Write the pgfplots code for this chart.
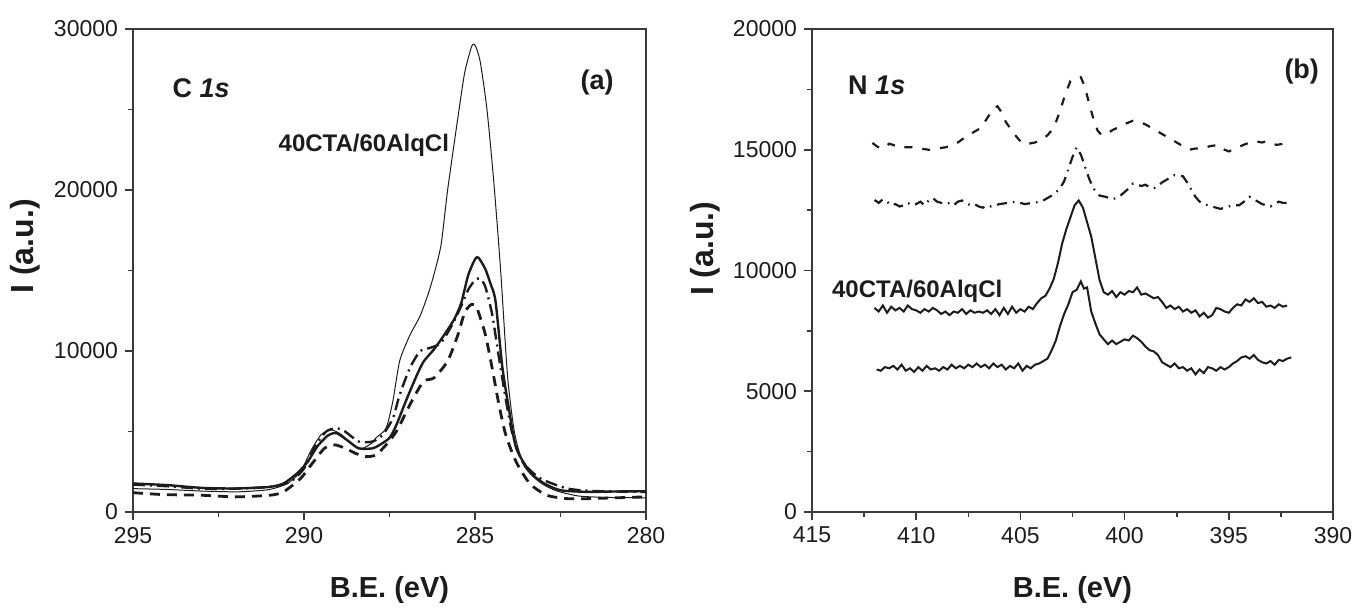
\documentclass[border=0pt]{standalone}
\usepackage{pgfplots}
\pgfplotsset{compat=1.18}
\usepackage{fontspec}
\setmainfont{Liberation Sans}
\definecolor{ink}{HTML}{1C1C1C}
\definecolor{axc}{HTML}{3A3A3A}
\pgfplotsset{
  xpsaxis/.style={
    scale only axis,
    height=241.5pt,
    x dir=reverse,
    axis line style={axc, line width=0.8pt},
    tick style={axc, line width=0.8pt},
    tick align=outside,
    major tick length=4pt,
    minor tick length=2.5pt,
    xtick pos=bottom, ytick pos=left,
    minor x tick num=1, minor y tick num=1,
    tick label style={font=\fontsize{11.5}{13}\selectfont, text=ink},
    /pgf/number format/assume math mode=true,
    /pgf/number format/1000 sep={},
    scaled y ticks=false,
    xlabel={B.E. (eV)}, ylabel={I (a.u.)},
    xlabel style={font=\fontsize{14.5}{16}\selectfont\bfseries, text=ink,
      at={(axis description cs:0.5,-0.161)}, anchor=center},
    ylabel style={font=\fontsize{16}{18}\selectfont\bfseries, text=ink, anchor=center},
    clip=false,
  }
}
\begin{document}
\begin{tikzpicture}
\useasboundingbox (-66.5pt,-48pt) rectangle (610.5pt,256pt);
% ---------------- (a) C 1s ----------------
\begin{axis}[xpsaxis, width=256.5pt, at={(0pt,0pt)}, anchor=south west,
  xmin=280, xmax=295, ymin=0, ymax=30000,
  xtick={280,285,290,295}, ytick={0,10000,20000,30000},
  ylabel style={at={(axis description cs:-0.21,0.55)}}]
% thin solid: 40CTA/60AlqCl
\addplot[ink, line width=0.5pt, smooth, tension=0.4] coordinates {
(295,1450)(294,1400)(293,1300)(292,1250)(291.5,1300)(291,1400)(290.5,1750)
(290.1,2500)(289.8,3800)(289.5,4800)(289.2,5100)(288.9,4800)(288.6,4200)
(288.3,3950)(288.0,4300)(287.9,4600)(287.6,5200)(287.4,6900)(287.2,9400)
(286.9,11000)(286.6,12200)(286.3,14000)(286.0,16500)(285.8,20000)(285.5,24500)
(285.3,27300)(285.1,28900)(285.0,29000)(284.85,28000)(284.65,25000)(284.45,20500)
(284.25,15000)(284.05,8500)(283.85,5000)(283.6,3000)(283.3,2200)(283.0,1700)
(282.6,1300)(282.0,1000)(281.5,930)(281,900)(280,880)};
% thick solid
\addplot[ink, line width=1.2pt, smooth, tension=0.4] coordinates {
(295,1770)(294,1670)(293,1500)(292,1460)(291,1560)(290.6,1770)(290.2,2400)
(289.9,3100)(289.6,4100)(289.3,4750)(289.05,4900)(288.7,4400)(288.4,3950)
(288.0,3950)(287.8,4150)(287.5,4600)(287.3,5400)(287.0,7000)(286.7,8500)
(286.5,9350)(286.2,10100)(285.9,11000)(285.6,12000)(285.4,13000)(285.2,14700)
(285.0,15700)(284.9,15800)(284.7,15100)(284.55,14200)(284.4,13100)(284.2,9000)
(284.0,6300)(283.8,4000)(283.4,2500)(283.0,1800)(282.5,1350)(281.7,1250)
(281,1270)(280,1290)};
% dash-dot
\addplot[ink, line width=1.2pt, smooth, tension=0.4,
  dash pattern=on 6pt off 2.5pt on 1pt off 2.5pt] coordinates {
(295,1700)(294,1600)(293,1450)(292,1450)(291,1560)(290.4,1875)(290.0,2700)
(289.7,4000)(289.35,5000)(289.05,5200)(288.8,5000)(288.4,4375)(288.0,4375)
(287.7,4790)(287.4,5830)(287.2,7290)(286.9,8960)(286.6,10000)(286.3,10200)
(286.0,10500)(285.7,11500)(285.4,12800)(285.2,13800)(285.0,14400)(284.85,14500)
(284.7,14000)(284.5,12300)(284.3,9600)(284.1,7000)(283.9,4800)(283.6,3100)
(283.1,2100)(282.3,1460)(281.5,1300)(280,1250)};
% dashed
\addplot[ink, line width=1.4pt, smooth, tension=0.4,
  dash pattern=on 5pt off 3.5pt] coordinates {
(295,1200)(294.1,1080)(293,1040)(292,940)(291,1040)(290.6,1250)(290.1,2080)
(289.8,2900)(289.4,3960)(289.1,4170)(288.8,3960)(288.5,3650)(288.2,3440)
(287.9,3540)(287.6,4170)(287.3,5000)(287.0,6250)(286.8,7080)(286.5,8125)
(286.2,8330)(285.8,9375)(285.5,11000)(285.3,12400)(285.1,12900)(284.95,12700)
(284.7,11040)(284.5,8960)(284.3,6670)(284.1,4790)(283.8,3125)(283.4,1770)
(282.9,1040)(282.3,830)(281.7,830)(280,940)};
\node[anchor=west, font=\fontsize{13.5}{15}\selectfont\bfseries, text=ink]
  at (axis cs:294.05,26300) {C \textit{1s}};
\node[font=\fontsize{13.5}{15}\selectfont\bfseries, text=ink]
  at (axis cs:281.43,26700) {(a)};
\node[font=\fontsize{12}{14}\selectfont\bfseries, text=ink]
  at (axis cs:288.25,22750) {40CTA/60AlqCl};
\end{axis}
% ---------------- (b) N 1s ----------------
\begin{axis}[xpsaxis, width=260.5pt, at={(339.5pt,0pt)}, anchor=south west,
  xmin=390, xmax=415, ymin=0, ymax=20000,
  xtick={390,395,...,415}, ytick={0,5000,...,20000},
  ylabel style={at={(axis description cs:-0.205,0.545)}}]
% dashed
\addplot[ink, line width=1.1pt, dash pattern=on 4pt off 5pt] coordinates {
(412.1,15280)(411.9,15150)(411.7,15050)(411.5,15100)(411.3,15250)(411.1,15200)
(410.9,15100)(410.6,15100)(410.2,15100)(409.8,15050)(409.4,15000)(409.2,15000)
(409.0,15050)(408.6,15100)(408.2,15200)(408.0,15300)(407.7,15490)(407.4,15650)
(407.1,15800)(406.9,15900)(406.6,16300)(406.3,16700)(406.1,16800)(405.9,16550)
(405.7,16150)(405.5,15900)(405.2,15550)(404.9,15250)(404.6,15250)(404.3,15300)
(404.0,15400)(403.7,15600)(403.4,15900)(403.1,16600)(402.9,17150)(402.6,17850)
(402.3,17950)(402.1,18000)(401.9,17600)(401.7,16900)(401.5,16300)(401.3,15800)
(401.1,15600)(400.8,15700)(400.5,15850)(400.2,15950)(399.9,16100)(399.6,16200)
(399.3,16150)(399.0,16050)(398.7,15900)(398.4,15750)(398.1,15600)(397.8,15450)
(397.5,15300)(397.2,15150)(396.9,15000)(396.6,15050)(396.2,15070)(395.9,15150)
(395.5,15200)(395.2,15000)(395.0,14930)(394.7,15050)(394.3,15200)(394.0,15300)
(393.7,15350)(393.4,15300)(393.2,15350)(392.9,15250)(392.7,15200)(392.4,15250)
(392.2,15240)};
% dash-dot
\addplot[ink, line width=1.1pt, dash pattern=on 5pt off 3pt on 0.8pt off 3pt] coordinates {
(412.0,12920)(411.8,12800)(411.6,12950)(411.4,12850)(411.2,12700)(411.0,12750)
(410.8,12650)(410.6,12700)(410.4,12800)(410.2,12700)(410.0,12750)(409.8,12850)
(409.6,12700)(409.4,12900)(409.2,13000)(409.0,12850)(408.8,12800)(408.6,12750)
(408.4,12800)(408.2,12700)(408.0,12850)(407.8,12900)(407.6,12800)(407.4,12700)
(407.2,12750)(407.0,12650)(406.8,12600)(406.6,12700)(406.4,12650)(406.2,12700)
(406.0,12750)(405.6,12800)(405.2,12850)(404.8,12750)(404.4,12800)(404.0,12850)
(403.7,13000)(403.4,13150)(403.1,13400)(402.9,13700)(402.7,14200)(402.5,14700)
(402.3,15100)(402.1,14800)(401.9,14300)(401.7,13800)(401.5,13400)(401.2,13100)
(400.9,13050)(400.6,12950)(400.4,13000)(400.2,13100)(400.0,13250)(399.8,13400)
(399.6,13600)(399.4,13550)(399.2,13500)(399.0,13550)(398.8,13450)(398.6,13400)
(398.4,13500)(398.2,13650)(398.0,13750)(397.8,13850)(397.6,13950)(397.4,13950)
(397.2,13900)(397.0,13650)(396.8,13350)(396.6,13050)(396.4,12850)(396.2,12750)
(396.0,12700)(395.8,12650)(395.6,12600)(395.4,12550)(395.2,12600)(395.0,12650)
(394.8,12700)(394.5,12700)(394.2,12900)(394.0,13050)(393.8,12950)(393.6,12850)
(393.4,12750)(393.2,12700)(393.0,12650)(392.8,12750)(392.6,12850)(392.4,12800)
(392.2,12800)};
% upper solid: 40CTA/60AlqCl
\addplot[ink, line width=1pt] coordinates {
(412.0,8450)(411.8,8300)(411.6,8550)(411.4,8250)(411.2,8500)(411.0,8350)
(410.8,8450)(410.6,8300)(410.4,8550)(410.2,8400)(410.0,8350)(409.8,8250)
(409.6,8400)(409.4,8300)(409.2,8450)(409.0,8350)(408.8,8200)(408.6,8300)
(408.4,8150)(408.2,8300)(408.0,8250)(407.8,8400)(407.6,8200)(407.4,8350)
(407.2,8250)(407.0,8300)(406.8,8250)(406.6,8350)(406.4,8200)(406.2,8400)
(406.0,8150)(405.8,8450)(405.6,8200)(405.4,8500)(405.2,8250)(405.0,8400)
(404.8,8300)(404.6,8500)(404.4,8400)(404.2,8650)(404.0,8850)(403.8,8950)
(403.6,9250)(403.4,9650)(403.2,10300)(403.0,11100)(402.8,11700)(402.6,12200)
(402.4,12700)(402.2,12900)(402.0,12600)(401.8,12000)(401.6,11400)(401.4,10500)
(401.2,9600)(401.0,9100)(400.8,9000)(400.6,9150)(400.4,8900)(400.2,9100)
(400.0,9000)(399.8,9150)(399.6,9100)(399.4,9300)(399.2,9000)(399.0,9050)
(398.8,8950)(398.6,8850)(398.4,8900)(398.2,8700)(398.0,8450)(397.8,8550)
(397.6,8400)(397.4,8500)(397.2,8300)(397.0,8400)(396.8,8250)(396.6,8350)
(396.4,8100)(396.2,8250)(396.0,8050)(395.8,8150)(395.6,8450)(395.4,8400)
(395.2,8300)(395.0,8250)(394.8,8450)(394.6,8600)(394.4,8550)(394.2,8800)
(394.0,8700)(393.8,8850)(393.6,8650)(393.4,8700)(393.2,8500)(393.0,8550)
(392.8,8450)(392.6,8600)(392.4,8500)(392.2,8550)};
% lower solid
\addplot[ink, line width=1pt] coordinates {
(411.9,5900)(411.7,5850)(411.5,6000)(411.3,5950)(411.1,6050)(410.9,5900)
(410.7,6100)(410.5,5850)(410.3,5950)(410.1,5800)(409.9,6000)(409.7,5850)
(409.5,6050)(409.3,5900)(409.1,5950)(408.9,5850)(408.7,6000)(408.5,5900)
(408.3,6100)(408.1,5950)(407.9,6050)(407.7,5950)(407.5,6100)(407.3,6000)
(407.1,6150)(406.9,6000)(406.7,6100)(406.5,5950)(406.3,6150)(406.1,6000)
(405.9,6100)(405.7,5900)(405.5,6050)(405.3,5950)(405.1,6150)(404.9,5850)
(404.7,6050)(404.5,5950)(404.3,6100)(404.1,6150)(403.9,6250)(403.7,6350)
(403.5,6700)(403.3,7100)(403.1,7700)(402.9,8200)(402.7,8600)(402.5,9100)
(402.3,9200)(402.1,9550)(401.95,9250)(401.8,9300)(401.6,8300)(401.4,7800)
(401.2,7350)(401.0,7150)(400.8,6950)(400.6,7100)(400.4,6950)(400.2,7050)
(400.0,7150)(399.8,7100)(399.6,7300)(399.4,7200)(399.2,7050)(399.0,6850)
(398.8,6700)(398.6,6650)(398.4,6500)(398.2,6200)(398.0,6100)(397.8,6000)
(397.6,6150)(397.4,5950)(397.2,6000)(397.0,5850)(396.8,5950)(396.6,5700)
(396.4,5900)(396.2,5750)(396.0,6000)(395.8,5950)(395.6,5850)(395.4,6000)
(395.2,5900)(395.0,6000)(394.8,6150)(394.6,6250)(394.4,6400)(394.2,6450)
(394.0,6350)(393.8,6500)(393.6,6300)(393.4,6200)(393.2,6150)(393.0,6250)
(392.8,6100)(392.6,6300)(392.4,6250)(392.2,6350)(392.0,6400)};
\node[anchor=west, font=\fontsize{13.5}{15}\selectfont\bfseries, text=ink]
  at (axis cs:413.6,17650) {N \textit{1s}};
\node[font=\fontsize{13.5}{15}\selectfont\bfseries, text=ink]
  at (axis cs:391.5,18250) {(b)};
\node[font=\fontsize{12}{14}\selectfont\bfseries, text=ink]
  at (axis cs:409.95,9150) {40CTA/60AlqCl};
\end{axis}
\end{tikzpicture}
\end{document}
